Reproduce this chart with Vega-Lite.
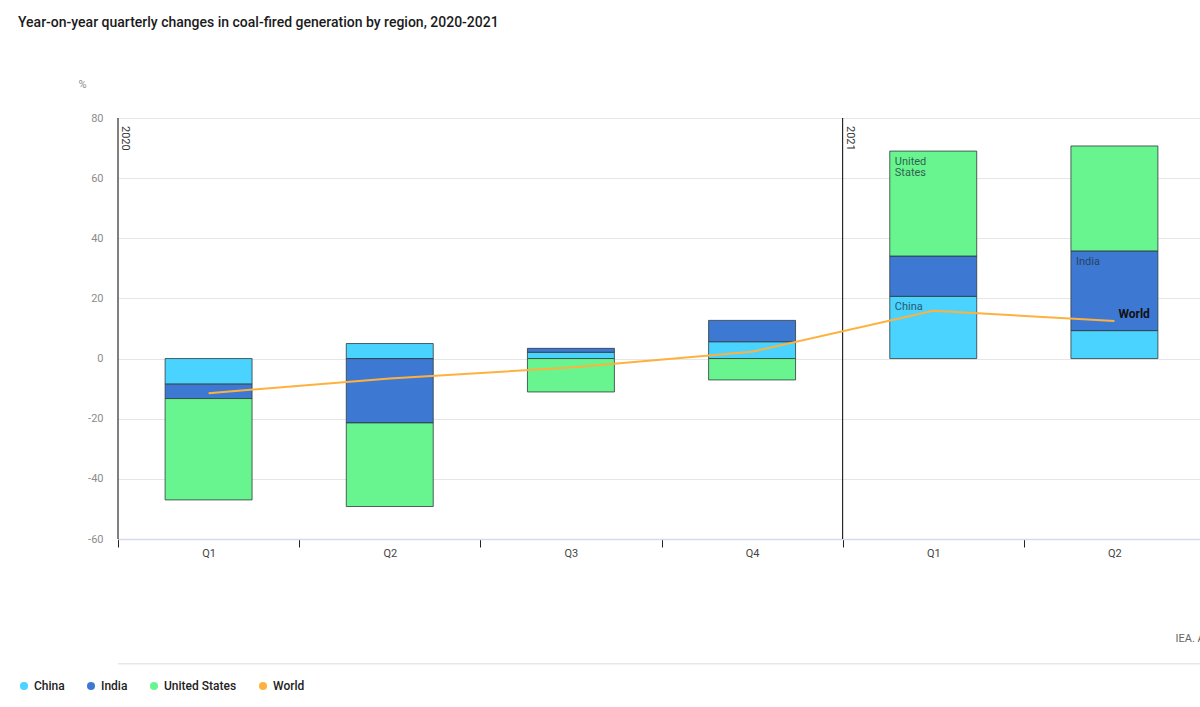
{
  "$schema": "https://vega.github.io/schema/vega-lite/v6.json",
  "description": "Year-on-year quarterly changes in coal-fired generation by region",
  "title": {
    "text": "Year-on-year quarterly changes in coal-fired generation by region, 2020-2021",
    "anchor": "start",
    "frame": "group",
    "dx": -100,
    "offset": 48
  },
  "autosize": "none",
  "padding": {"top": 118, "left": 118, "right": 0, "bottom": 168},
  "width": 1087,
  "height": 421,
  "background": "#ffffff",
  "datasets": {
    "regions": [
      {"period": "2020 Q1", "region": "China", "value": -8.5},
      {"period": "2020 Q1", "region": "India", "value": -4.8},
      {"period": "2020 Q1", "region": "United States", "value": -33.7},
      {"period": "2020 Q2", "region": "China", "value": 5.0},
      {"period": "2020 Q2", "region": "India", "value": -21.4},
      {"period": "2020 Q2", "region": "United States", "value": -27.8},
      {"period": "2020 Q3", "region": "China", "value": 2.1},
      {"period": "2020 Q3", "region": "India", "value": 1.3},
      {"period": "2020 Q3", "region": "United States", "value": -11.1},
      {"period": "2020 Q4", "region": "China", "value": 5.6},
      {"period": "2020 Q4", "region": "India", "value": 7.1},
      {"period": "2020 Q4", "region": "United States", "value": -7.1},
      {"period": "2021 Q1", "region": "China", "value": 20.7},
      {"period": "2021 Q1", "region": "India", "value": 13.4},
      {"period": "2021 Q1", "region": "United States", "value": 34.9},
      {"period": "2021 Q2", "region": "China", "value": 9.3},
      {"period": "2021 Q2", "region": "India", "value": 26.5},
      {"period": "2021 Q2", "region": "United States", "value": 34.9}
    ],
    "world": [
      {"period": "2020 Q1", "value": -11.5},
      {"period": "2020 Q2", "value": -6.6},
      {"period": "2020 Q3", "value": -3.0},
      {"period": "2020 Q4", "value": 2.3},
      {"period": "2021 Q1", "value": 15.9},
      {"period": "2021 Q2", "value": 12.5}
    ],
    "years": [
      {"period": "2020 Q1", "year": "2020"},
      {"period": "2021 Q1", "year": "2021"}
    ]
  },
  "layer": [
    {
      "data": {"name": "regions"},
      "mark": {"type": "bar", "width": {"band": 0.48}, "stroke": "#2e3b3b", "strokeWidth": 1, "strokeOpacity": 0.8},
      "encoding": {
        "x": {
          "field": "period",
          "type": "nominal",
          "scale": {"paddingInner": 0, "paddingOuter": 0},
          "axis": {
            "title": "IEA. All rights reserved.",
            "titleX": 1057,
            "titleY": 99,
            "titleAlign": "left",
            "titleBaseline": "middle",
            "titleColor": "#666666",
            "titleFontSize": 11,
            "titleFontWeight": "normal",
            "labelExpr": "split(datum.label, ' ')[1]",
            "labelAngle": 0,
            "labelColor": "#444444",
            "labelFontSize": 11,
            "labelPadding": 0,
            "tickBand": "extent",
            "tickColor": "#222222",
            "tickSize": 8,
            "domainColor": "#d3dcef",
            "domainWidth": 1.5
          }
        },
        "y": {
          "field": "value",
          "type": "quantitative",
          "stack": "zero",
          "scale": {"domain": [-60, 80], "nice": false},
          "axis": {
            "title": "%",
            "titleAngle": 0,
            "titleX": -40,
            "titleY": -34,
            "titleAlign": "left",
            "titleBaseline": "middle",
            "titleColor": "#8c8c8c",
            "titleFontSize": 11,
            "titleFontWeight": "normal",
            "values": [-60, -40, -20, 0, 20, 40, 60, 80],
            "labelExpr": "datum.value + ''",
            "labelColor": "#8c8c8c",
            "labelFontSize": 11,
            "labelPadding": 15,
            "ticks": false,
            "domain": false,
            "grid": true,
            "gridColor": "#e6e6e6"
          }
        },
        "color": {
          "field": "region",
          "type": "nominal",
          "scale": {
            "domain": ["China", "India", "United States", "World"],
            "range": ["#4ad3ff", "#3d79d3", "#68f590", "#ffb13d"]
          },
          "legend": {
            "title": null,
            "orient": "none",
            "legendX": -100,
            "legendY": 562,
            "direction": "horizontal",
            "symbolType": "circle",
            "symbolSize": 64,
            "symbolStrokeWidth": 0,
            "labelFontSize": 12,
            "labelFontWeight": 500,
            "labelColor": "#222222",
            "labelOffset": 4,
            "columnPadding": 20
          }
        },
        "order": {"field": "region", "sort": "ascending"}
      }
    },
    {
      "mark": {"type": "rule", "color": "#000000", "strokeWidth": 1},
      "encoding": {"y": {"datum": 0}}
    },
    {
      "data": {"name": "years"},
      "mark": {"type": "rule", "color": "#e6e6e6", "strokeWidth": 1, "clip": false},
      "encoding": {
        "y": {"datum": -101.5}
      }
    },
    {
      "data": {"name": "years"},
      "mark": {"type": "rule", "color": "#000000", "strokeWidth": 1},
      "encoding": {
        "x": {"field": "period", "type": "nominal", "bandPosition": 0},
        "y": {"datum": 80},
        "y2": {"datum": -60}
      }
    },
    {
      "data": {"name": "years"},
      "mark": {"type": "text", "angle": 90, "align": "left", "baseline": "bottom", "dx": 8, "dy": -2, "fontSize": 11, "color": "#333333"},
      "encoding": {
        "x": {"field": "period", "type": "nominal", "bandPosition": 0},
        "y": {"datum": 80},
        "text": {"field": "year"}
      }
    },
    {
      "data": {"name": "regions"},
      "transform": [
        {"stack": "value", "groupby": ["period"], "sort": [{"field": "region"}], "as": ["v0", "v1"]},
        {"filter": "(datum.period == '2021 Q1' && (datum.region == 'China' || datum.region == 'United States')) || (datum.period == '2021 Q2' && datum.region == 'India')"}
      ],
      "mark": {"type": "text", "align": "left", "baseline": "top", "dx": 5, "dy": 5, "fontSize": 11, "lineBreak": " ", "lineHeight": 11, "color": "#1f2f3a", "opacity": 0.75},
      "encoding": {
        "x": {"field": "period", "type": "nominal", "bandPosition": 0.26},
        "y": {"field": "v1", "type": "quantitative"},
        "text": {"field": "region"}
      }
    },
    {
      "data": {"name": "world"},
      "mark": {"type": "line", "color": "#ffb13d", "strokeWidth": 2},
      "encoding": {
        "x": {"field": "period", "type": "nominal"},
        "y": {"field": "value", "type": "quantitative"}
      }
    },
    {
      "data": {"name": "world"},
      "transform": [{"filter": "datum.period == '2021 Q2'"}],
      "mark": {"type": "text", "align": "left", "baseline": "middle", "dx": 4, "dy": -7, "fontSize": 12, "fontWeight": "bold", "color": "#111111"},
      "encoding": {
        "x": {"field": "period", "type": "nominal"},
        "y": {"field": "value", "type": "quantitative"},
        "text": {"value": "World"}
      }
    }
  ],
  "config": {
    "font": "Roboto",
    "view": {"stroke": null},
    "title": {"fontSize": 14, "fontWeight": 500, "color": "#1b1b1b"}
  }
}
